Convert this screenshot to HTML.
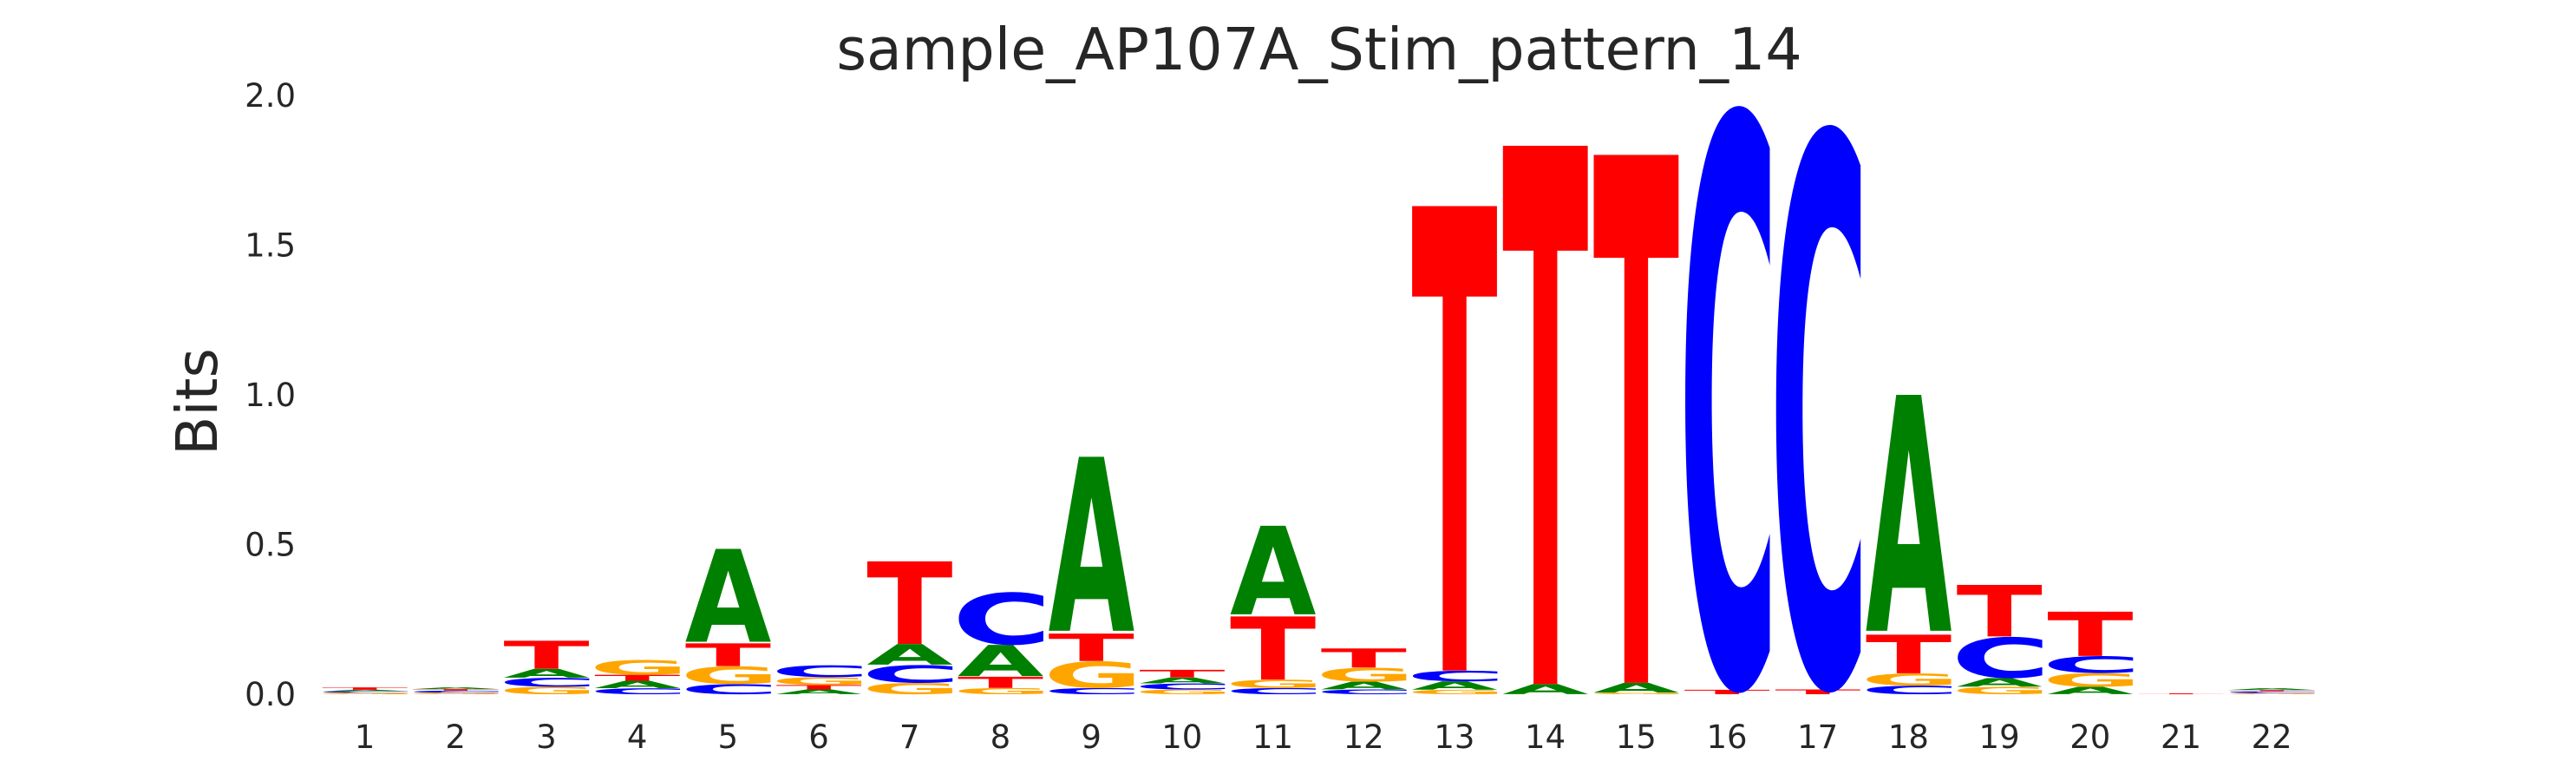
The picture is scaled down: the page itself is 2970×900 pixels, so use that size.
<!DOCTYPE html>
<html><head><meta charset="utf-8">
<style>
html,body{margin:0;padding:0;background:#fff;overflow:hidden;width:2970px;height:900px;}
svg{display:block;overflow:hidden;font-family:"DejaVu Sans","Liberation Sans",sans-serif;}
</style></head>
<body>
<svg id="chart" width="2970" height="900" viewBox="0 0 2970 900" xmlns="http://www.w3.org/2000/svg">
<text x="1521" y="80" text-anchor="middle" font-size="66.5" fill="#262626">sample_AP107A_Stim_pattern_14</text>
<text transform="translate(250,463) rotate(-90)" text-anchor="middle" font-size="66" fill="#262626">Bits</text>
<g id="yticks"></g>
<g id="xticks"></g>
<g id="stacks"></g>
</svg>
<script>
const positions = ["1","2","3","4","5","6","7","8","9","10","11","12","13","14","15","16","17","18","19","20","21","22"];
const yTickValues = [0, 0.5, 1.0, 1.5, 2.0];
const yTickLabels = ["0.0","0.5","1.0","1.5","2.0"];
const stackLetters = [
 ["G","C","A","T"],["G","C","T","A"],["G","C","A","T"],["C","A","T","G"],["C","G","T","A"],
 ["A","T","G","C"],["G","C","A","T"],["G","T","A","C"],["C","G","T","A"],["G","C","A","T"],
 ["C","G","T","A"],["C","A","G","T"],["G","A","C","T"],["A","T"],["G","A","T"],
 ["T","C"],["T","C"],["C","G","T","A"],["G","A","C","T"],["A","G","C","T"],["T"],["G","C","T","A"]
];
const stackHeights = [
 [0.005,0.005,0.005,0.008],[0.005,0.007,0.005,0.006],[0.025,0.03,0.03,0.095],[0.02,0.025,0.02,0.05],[0.034,0.06,0.077,0.315],
 [0.016,0.015,0.026,0.04],[0.038,0.06,0.07,0.28],[0.021,0.038,0.106,0.178],[0.021,0.09,0.093,0.59],[0.016,0.02,0.02,0.026],
 [0.021,0.028,0.214,0.3],[0.016,0.026,0.047,0.065],[0.015,0.028,0.036,1.575],[0.034,1.825],[0.005,0.033,1.79],
 [0.015,1.97],[0.016,1.905],[0.029,0.041,0.131,0.8],[0.025,0.029,0.139,0.175],[0.025,0.046,0.057,0.15],[0.003],[0.004,0.006,0.004,0.006]
];
const colors = {A:"#008000",C:"#0000ff",G:"#ffa500",T:"#ff0000"};
const NS="http://www.w3.org/2000/svg";
const y0=800, pxPerBit=345, x0=420.5, step=104.7, w=99;
function yScale(v){return y0 - v*pxPerBit;}
function xScale(i){return x0 + i*step;}
const cv=document.createElement('canvas').getContext('2d');
cv.font='bold 100px "DejaVu Sans"';
const ink={};
["A","C","G","T"].forEach(L=>{const m=cv.measureText(L);ink[L]={l:m.actualBoundingBoxLeft,r:m.actualBoundingBoxRight,a:m.actualBoundingBoxAscent,d:m.actualBoundingBoxDescent};});
const yt=document.getElementById('yticks');
yTickValues.forEach((v,i)=>{
 const t=document.createElementNS(NS,'text');
 
 
 t.setAttribute('x',341);t.setAttribute('y',yScale(v)+13);
 t.setAttribute('text-anchor','end');t.setAttribute('font-size','37');t.setAttribute('fill','#262626');
 t.textContent=yTickLabels[i];yt.appendChild(t);
});
const xt=document.getElementById('xticks');
positions.forEach((p,i)=>{
 const t=document.createElementNS(NS,'text');
 
 
 t.setAttribute('x',xScale(i));t.setAttribute('y',862);
 t.setAttribute('text-anchor','middle');t.setAttribute('font-size','37');t.setAttribute('fill','#262626');
 t.textContent=p;xt.appendChild(t);
});
const st=document.getElementById('stacks');
stackLetters.forEach((letters,i)=>{
 let cum=0;
 letters.forEach((L,j)=>{
  const h=stackHeights[i][j];
  const yb=yScale(cum), ph=h*pxPerBit;
  cum+=h;
  if(ph<0.3) return;
  const k=ink[L];
  const sx=w/(k.l+k.r), sy=ph/(k.a+k.d);
  const t=document.createElementNS(NS,'text');
  
  
  t.setAttribute('x',0);t.setAttribute('y',0);
  t.setAttribute('font-size',100);t.setAttribute('font-weight','bold');
  t.setAttribute('fill',colors[L]);
  t.setAttribute('transform','translate('+(xScale(i)-w/2)+','+yb+') scale('+sx+','+sy+') translate('+k.l+','+(-k.d)+')');
  t.textContent=L;st.appendChild(t);
 });
});
</script>
</body></html>
